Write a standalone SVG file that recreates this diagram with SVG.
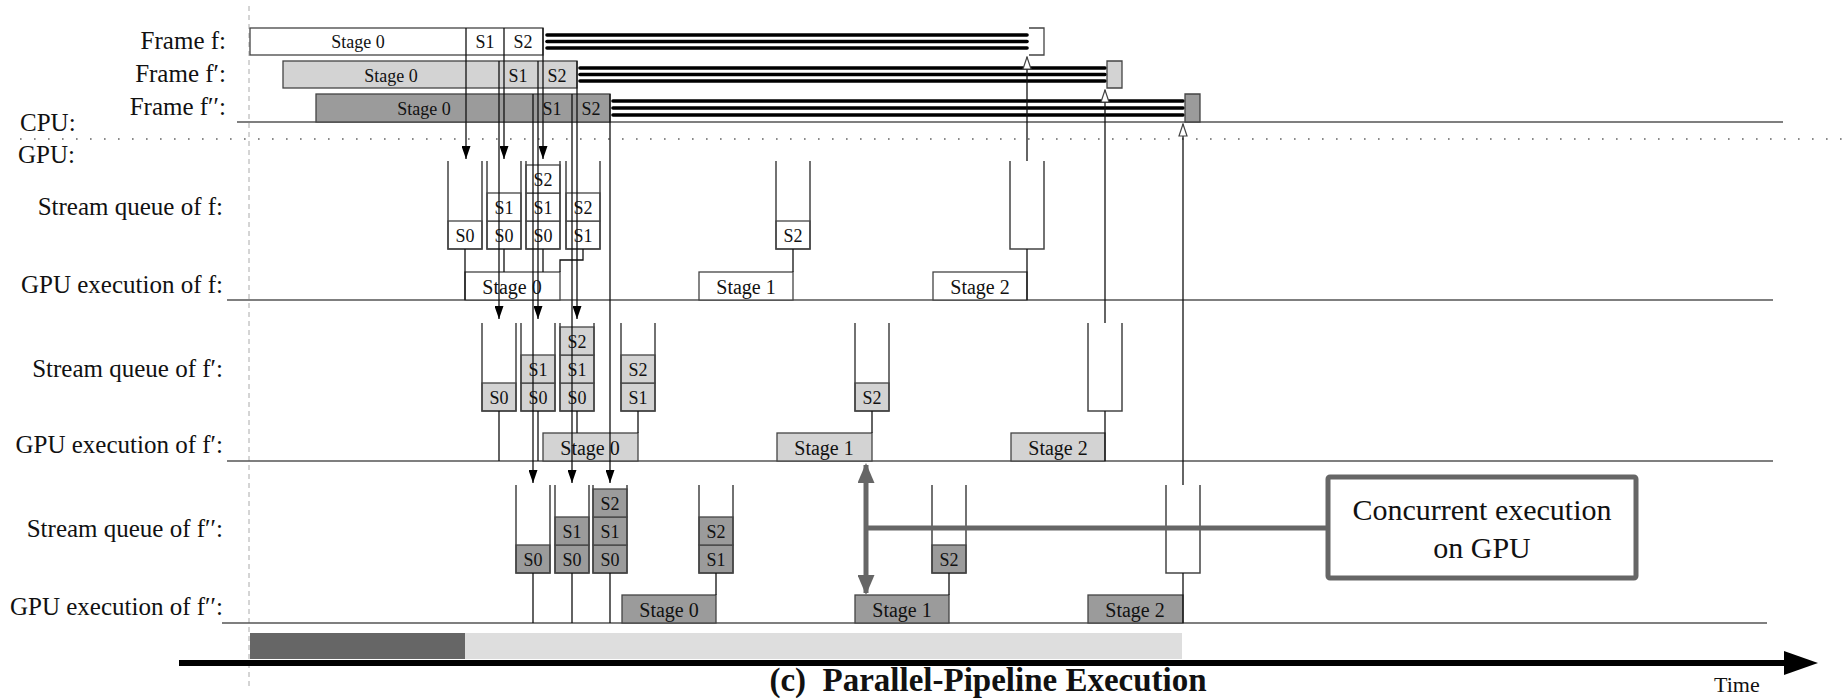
<svg xmlns="http://www.w3.org/2000/svg" width="1847" height="699" viewBox="0 0 1847 699">
<style>
text{font-family:"Liberation Serif","Times New Roman",serif;fill:#111}
.lbl{font-size:25px;text-anchor:end}
.cpu{font-size:18px;text-anchor:middle}
.q{font-size:18px;text-anchor:middle}
.st{font-size:20px;text-anchor:middle}
.box{stroke:#444;stroke-width:1.3}
.w{fill:#fff}.l{fill:#d3d3d3}.d{fill:#9b9b9b}
.wall{fill:none;stroke:#444;stroke-width:1.5}
.ln{stroke:#111;stroke-width:1.3;fill:none}
.axis{stroke:#555;stroke-width:1.5;fill:none}
.stripe{stroke:#000;stroke-width:3.6;stroke-linecap:round}
.gray{stroke:#666;stroke-width:5;fill:none}
</style>
<defs>
<marker id="ad" viewBox="0 0 13 9" refX="13" refY="4.5" markerWidth="13" markerHeight="9" markerUnits="userSpaceOnUse" orient="auto"><path d="M0,0 L13,4.5 L0,9 z" fill="#000"/></marker>
<marker id="ao" viewBox="-1 -1 14 10" refX="12" refY="4" markerWidth="14" markerHeight="10" markerUnits="userSpaceOnUse" orient="auto"><path d="M0,0 L12,4 L0,8 z" fill="#fff" stroke="#444" stroke-width="1.2"/></marker>
<marker id="ag" viewBox="0 0 20 17" refX="18" refY="8.5" markerWidth="20" markerHeight="17" markerUnits="userSpaceOnUse" orient="auto-start-reverse"><path d="M0,0 L20,8.5 L0,17 z" fill="#666"/></marker>
</defs>
<rect width="1847" height="699" fill="#fff"/>

<g id="guides">
<line x1="249" y1="6" x2="249" y2="686" stroke="#aaa" stroke-width="1" stroke-dasharray="5 4"/>
<line x1="20" y1="139" x2="1847" y2="139" stroke="#666" stroke-width="1.6" stroke-dasharray="1.6 12.4"/>
<line class="axis" x1="237" y1="122" x2="1783" y2="122"/>
<line class="axis" x1="227" y1="300" x2="1773" y2="300"/>
<line class="axis" x1="227" y1="461" x2="1773" y2="461"/>
<line class="axis" x1="222" y1="623" x2="1767" y2="623"/>
</g>

<g id="labels">
<text class="lbl" x="226" y="49">Frame f:</text>
<text class="lbl" x="226" y="82">Frame f′:</text>
<text class="lbl" x="226" y="115">Frame f′′:</text>
<text x="20" y="131" font-size="25">CPU:</text>
<text x="18" y="163" font-size="25">GPU:</text>
<text class="lbl" x="223" y="215">Stream queue of f:</text>
<text class="lbl" x="223" y="293">GPU execution of f:</text>
<text class="lbl" x="223" y="377">Stream queue of f′:</text>
<text class="lbl" x="223" y="453">GPU execution of f′:</text>
<text class="lbl" x="223" y="537">Stream queue of f′′:</text>
<text class="lbl" x="223" y="615">GPU execution of f′′:</text>
</g>

<g id="cpu-frame-f">
<rect class="box w" x="250" y="28" width="293" height="27"/>
<text class="cpu" x="358" y="48">Stage 0</text>
<text class="cpu" x="485" y="48">S1</text>
<text class="cpu" x="523" y="48">S2</text>
<line class="stripe" x1="547" y1="35" x2="1027" y2="35"/>
<line class="stripe" x1="547" y1="41.5" x2="1027" y2="41.5"/>
<line class="stripe" x1="547" y1="48" x2="1027" y2="48"/>
<path d="M1029,28 H1044 V55 H1029" fill="#fff" stroke="#444" stroke-width="1.3"/>
</g>
<g id="cpu-frame-f1">
<rect class="box l" x="283" y="61" width="294" height="27"/>
<text class="cpu" x="391" y="82">Stage 0</text>
<text class="cpu" x="518" y="82">S1</text>
<text class="cpu" x="557" y="82">S2</text>
<line class="stripe" x1="580" y1="68" x2="1105" y2="68"/>
<line class="stripe" x1="580" y1="74.5" x2="1105" y2="74.5"/>
<line class="stripe" x1="580" y1="81" x2="1105" y2="81"/>
<path d="M1107,61 H1122 V88 H1107 z" fill="#d3d3d3" stroke="#444" stroke-width="1.3"/>
</g>
<g id="cpu-frame-f2">
<rect class="box d" x="316" y="94" width="294" height="28"/>
<text class="cpu" x="424" y="115">Stage 0</text>
<text class="cpu" x="552" y="115">S1</text>
<text class="cpu" x="591" y="115">S2</text>
<line class="stripe" x1="613" y1="101" x2="1183" y2="101"/>
<line class="stripe" x1="613" y1="108" x2="1183" y2="108"/>
<line class="stripe" x1="613" y1="115" x2="1183" y2="115"/>
<path d="M1185,94 H1200 V122 H1185 z" fill="#9b9b9b" stroke="#444" stroke-width="1.3"/>
</g>

<g id="queues-f">
<rect class="box w" x="448" y="221" width="34" height="28"/><text class="q" x="465" y="242">S0</text>
<path class="wall" d="M448,161 V249 H482 V161"/>
<rect class="box w" x="487" y="221" width="34" height="28"/><text class="q" x="504" y="242">S0</text>
<rect class="box w" x="487" y="193" width="34" height="28"/><text class="q" x="504" y="214">S1</text>
<path class="wall" d="M487,161 V249 H521 V161"/>
<rect class="box w" x="526" y="221" width="34" height="28"/><text class="q" x="543" y="242">S0</text>
<rect class="box w" x="526" y="193" width="34" height="28"/><text class="q" x="543" y="214">S1</text>
<rect class="box w" x="526" y="165" width="34" height="28"/><text class="q" x="543" y="186">S2</text>
<path class="wall" d="M526,161 V249 H560 V161"/>
<rect class="box w" x="566" y="221" width="34" height="28"/><text class="q" x="583" y="242">S1</text>
<rect class="box w" x="566" y="193" width="34" height="28"/><text class="q" x="583" y="214">S2</text>
<path class="wall" d="M566,161 V249 H600 V161"/>
<rect class="box w" x="776" y="221" width="34" height="28"/><text class="q" x="793" y="242">S2</text>
<path class="wall" d="M776,161 V249 H810 V161"/>
<path class="wall" d="M1010,161 V249 H1044 V161"/>
</g>
<g id="gpu-f">
<rect class="box w" x="465" y="272" width="95" height="28"/><text class="st" x="512" y="294">Stage 0</text>
<rect class="box w" x="699" y="272" width="94" height="28"/><text class="st" x="746" y="294">Stage 1</text>
<rect class="box w" x="933" y="272" width="94" height="28"/><text class="st" x="980" y="294">Stage 2</text>
</g>

<g id="queues-f1">
<rect class="box l" x="482" y="383" width="34" height="28"/><text class="q" x="499" y="404">S0</text>
<path class="wall" d="M482,323 V411 H516 V323"/>
<rect class="box l" x="521" y="383" width="34" height="28"/><text class="q" x="538" y="404">S0</text>
<rect class="box l" x="521" y="355" width="34" height="28"/><text class="q" x="538" y="376">S1</text>
<path class="wall" d="M521,323 V411 H555 V323"/>
<rect class="box l" x="560" y="383" width="34" height="28"/><text class="q" x="577" y="404">S0</text>
<rect class="box l" x="560" y="355" width="34" height="28"/><text class="q" x="577" y="376">S1</text>
<rect class="box l" x="560" y="327" width="34" height="28"/><text class="q" x="577" y="348">S2</text>
<path class="wall" d="M560,323 V411 H594 V323"/>
<rect class="box l" x="621" y="383" width="34" height="28"/><text class="q" x="638" y="404">S1</text>
<rect class="box l" x="621" y="355" width="34" height="28"/><text class="q" x="638" y="376">S2</text>
<path class="wall" d="M621,323 V411 H655 V323"/>
<rect class="box l" x="855" y="383" width="34" height="28"/><text class="q" x="872" y="404">S2</text>
<path class="wall" d="M855,323 V411 H889 V323"/>
<path class="wall" d="M1088,323 V411 H1122 V323"/>
</g>
<g id="gpu-f1">
<rect class="box l" x="543" y="433" width="95" height="28"/><text class="st" x="590" y="455">Stage 0</text>
<rect class="box l" x="777" y="433" width="95" height="28"/><text class="st" x="824" y="455">Stage 1</text>
<rect class="box l" x="1011" y="433" width="94" height="28"/><text class="st" x="1058" y="455">Stage 2</text>
</g>

<g id="queues-f2">
<rect class="box d" x="516" y="545" width="34" height="28"/><text class="q" x="533" y="566">S0</text>
<path class="wall" d="M516,485 V573 H550 V485"/>
<rect class="box d" x="555" y="545" width="34" height="28"/><text class="q" x="572" y="566">S0</text>
<rect class="box d" x="555" y="517" width="34" height="28"/><text class="q" x="572" y="538">S1</text>
<path class="wall" d="M555,485 V573 H589 V485"/>
<rect class="box d" x="593" y="545" width="34" height="28"/><text class="q" x="610" y="566">S0</text>
<rect class="box d" x="593" y="517" width="34" height="28"/><text class="q" x="610" y="538">S1</text>
<rect class="box d" x="593" y="489" width="34" height="28"/><text class="q" x="610" y="510">S2</text>
<path class="wall" d="M593,485 V573 H627 V485"/>
<rect class="box d" x="699" y="545" width="34" height="28"/><text class="q" x="716" y="566">S1</text>
<rect class="box d" x="699" y="517" width="34" height="28"/><text class="q" x="716" y="538">S2</text>
<path class="wall" d="M699,485 V573 H733 V485"/>
<rect class="box d" x="932" y="545" width="34" height="28"/><text class="q" x="949" y="566">S2</text>
<path class="wall" d="M932,485 V573 H966 V485"/>
<path class="wall" d="M1166,485 V573 H1200 V485"/>
</g>
<g id="gpu-f2">
<rect class="box d" x="622" y="595" width="94" height="28"/><text class="st" x="669" y="617">Stage 0</text>
<rect class="box d" x="855" y="595" width="94" height="28"/><text class="st" x="902" y="617">Stage 1</text>
<rect class="box d" x="1088" y="595" width="95" height="28"/><text class="st" x="1135" y="617">Stage 2</text>
</g>

<g id="connectors">
<line class="ln" x1="466" y1="28" x2="466" y2="159" marker-end="url(#ad)"/>
<line class="ln" x1="504" y1="28" x2="504" y2="159" marker-end="url(#ad)"/>
<line class="ln" x1="543" y1="28" x2="543" y2="159" marker-end="url(#ad)"/>
<line class="ln" x1="499" y1="61" x2="499" y2="319" marker-end="url(#ad)"/>
<line class="ln" x1="538" y1="61" x2="538" y2="319" marker-end="url(#ad)"/>
<line class="ln" x1="577" y1="61" x2="577" y2="319" marker-end="url(#ad)"/>
<line class="ln" x1="533" y1="94" x2="533" y2="483" marker-end="url(#ad)"/>
<line class="ln" x1="572" y1="94" x2="572" y2="483" marker-end="url(#ad)"/>
<line class="ln" x1="610" y1="94" x2="610" y2="483" marker-end="url(#ad)"/>
<path class="ln" d="M465,249 V300 M504,249 V272 M543,249 V272 M583,249 V260 H560 V272 M793,249 V272 M1027,249 V300"/>
<path class="ln" d="M499,411 V461 M538,411 V461 M577,411 V433 M638,411 V433 M872,411 V433 M1105,411 V461"/>
<path class="ln" d="M533,573 V623 M572,573 V623 M610,573 V623 M716,573 V595 M949,573 V595 M1183,573 V623"/>
<line class="ln" x1="1027" y1="161" x2="1027" y2="57" marker-end="url(#ao)"/>
<line class="ln" x1="1105" y1="323" x2="1105" y2="90" marker-end="url(#ao)"/>
<line class="ln" x1="1183" y1="485" x2="1183" y2="124" marker-end="url(#ao)"/>
<line class="gray" x1="866" y1="465" x2="866" y2="593" marker-start="url(#ag)" marker-end="url(#ag)"/>
<line class="gray" x1="866" y1="528" x2="1328" y2="528"/>
</g>

<g id="note">
<rect x="1328" y="477" width="308" height="101" rx="2" fill="#fff" stroke="#666" stroke-width="5"/>
<text x="1482" y="520" font-size="30" text-anchor="middle">Concurrent execution</text>
<text x="1482" y="558" font-size="30" text-anchor="middle">on GPU</text>
</g>

<g id="timeline">
<rect x="250" y="633" width="215" height="26" fill="#666"/>
<rect x="465" y="633" width="717" height="26" fill="#dedede"/>
<line x1="179" y1="663" x2="1790" y2="663" stroke="#000" stroke-width="6"/>
<polygon points="1784,651 1818,663 1784,675" fill="#000"/>
<text x="988" y="691" font-size="33" font-weight="bold" text-anchor="middle" xml:space="preserve">(c)  Parallel-Pipeline Execution</text>
<text x="1714" y="692" font-size="22">Time</text>
</g>
</svg>
